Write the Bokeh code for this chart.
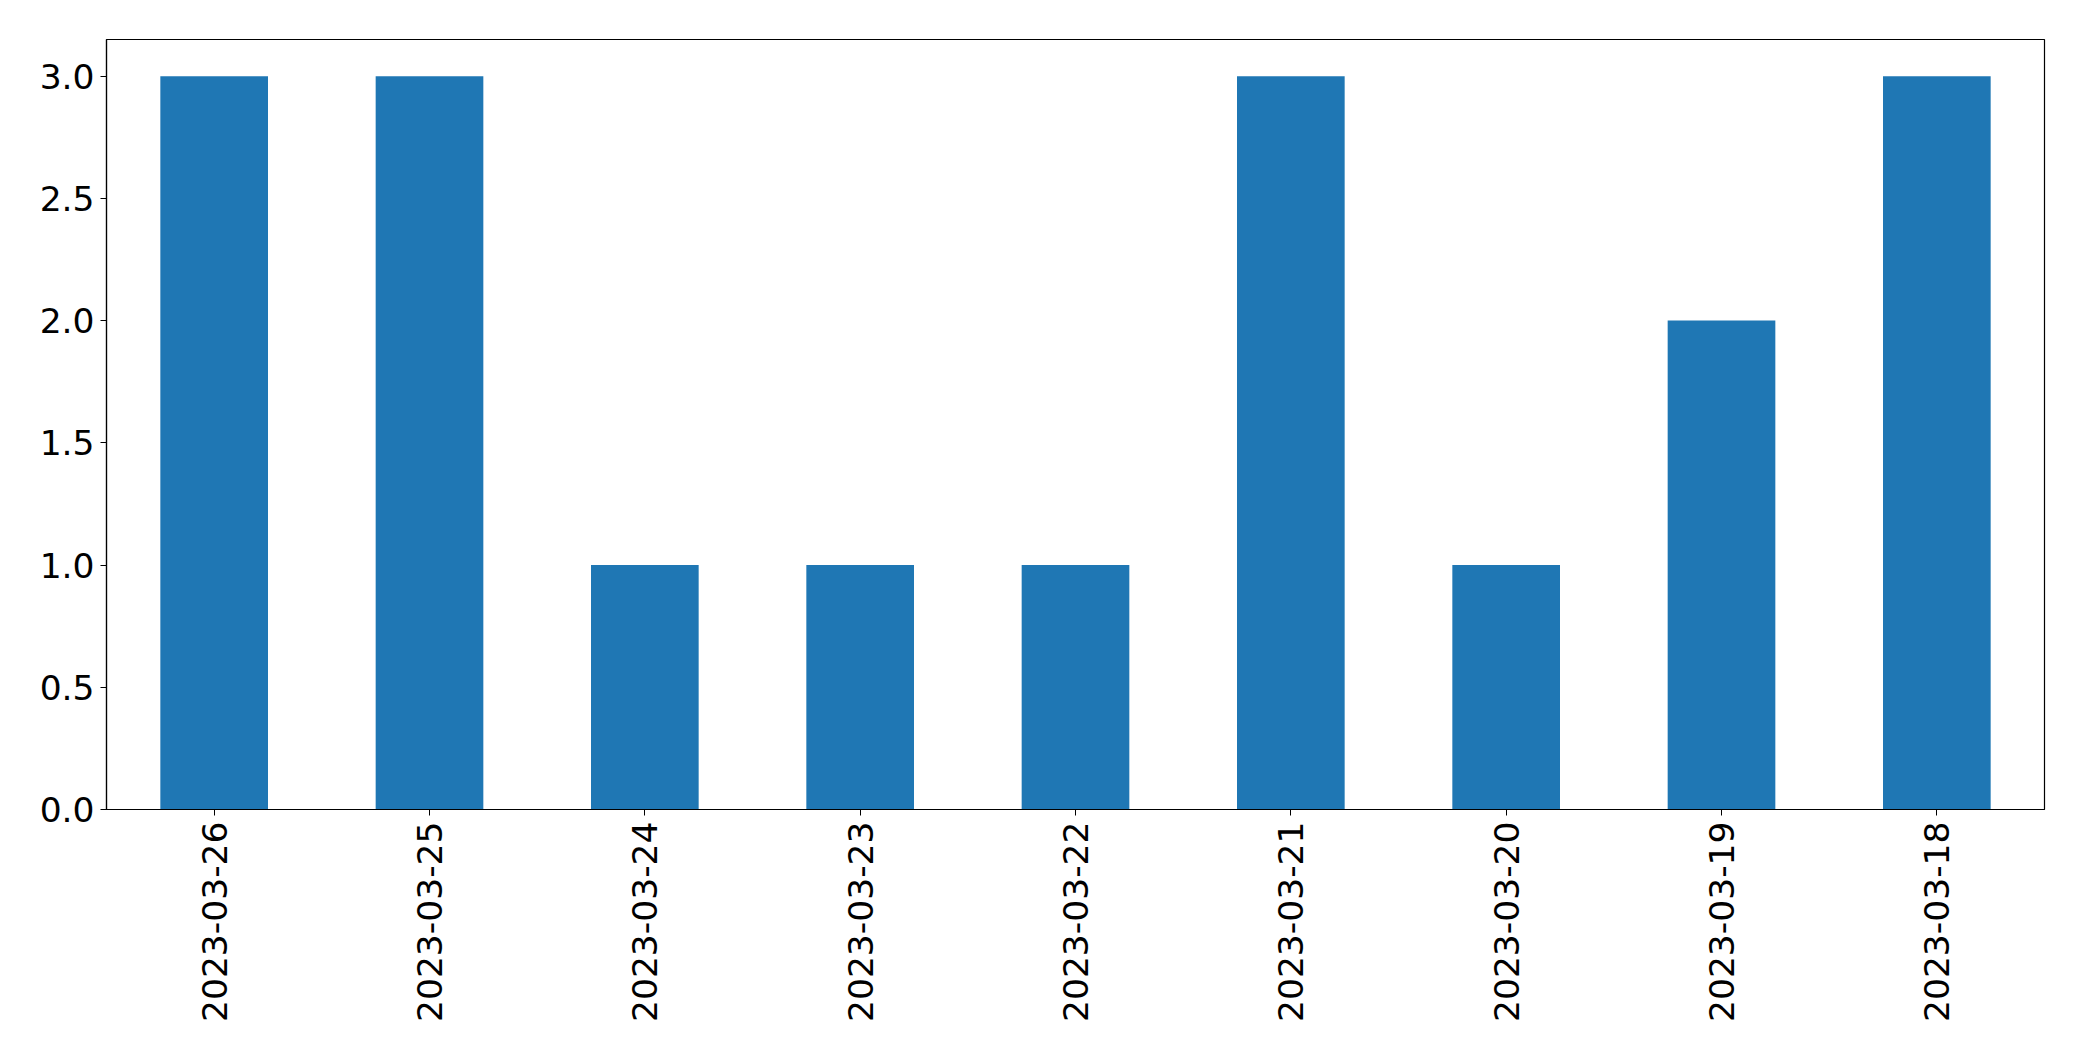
import math
from bokeh.plotting import figure
from bokeh.models import Range1d, FixedTicker, ColumnDataSource
from bokeh.embed import file_html
from bokeh.resources import INLINE

dates = ["2023-03-26", "2023-03-25", "2023-03-24", "2023-03-23", "2023-03-22",
         "2023-03-21", "2023-03-20", "2023-03-19", "2023-03-18"]
counts = [3, 3, 1, 1, 1, 3, 1, 2, 3]
y_ticks = [0.0, 0.5, 1.0, 1.5, 2.0, 2.5, 3.0]

xs = list(range(len(dates)))
src = ColumnDataSource(dict(x=xs, top=counts))

p = figure(width=2066, height=1045, output_backend="svg", toolbar_location=None,
           x_range=Range1d(-0.5, len(dates) - 0.5), y_range=Range1d(0, 3.15),
           min_border_left=106, min_border_right=22, min_border_top=39, min_border_bottom=236)

p.vbar(x="x", top="top", bottom=0, width=0.5, source=src, fill_color="#1f77b4", line_color=None)

p.xgrid.visible = False
p.ygrid.visible = False
p.outline_line_color = "black"
p.outline_line_width = 1.2

p.xaxis.ticker = FixedTicker(ticks=xs)
p.xaxis.major_label_overrides = {i: d for i, d in enumerate(dates)}
p.xaxis.major_label_orientation = math.pi / 2
p.yaxis.ticker = FixedTicker(ticks=y_ticks)
p.yaxis.major_label_overrides = {t: f"{t:.1f}" for t in y_ticks}

for ax in (p.xaxis[0], p.yaxis[0]):
    ax.major_label_text_font = "DejaVu Sans"
    ax.major_label_text_font_size = "34.5px"
    ax.major_label_text_color = "black"
    ax.major_tick_out = 6
    ax.major_tick_in = 0
    ax.minor_tick_out = 0
    ax.minor_tick_in = 0
    ax.major_tick_line_color = "black"
    ax.axis_line_color = "black"
    ax.axis_line_width = 1.2
    ax.major_label_standoff = 6

open("out.html", "w").write(file_html(p, INLINE))
